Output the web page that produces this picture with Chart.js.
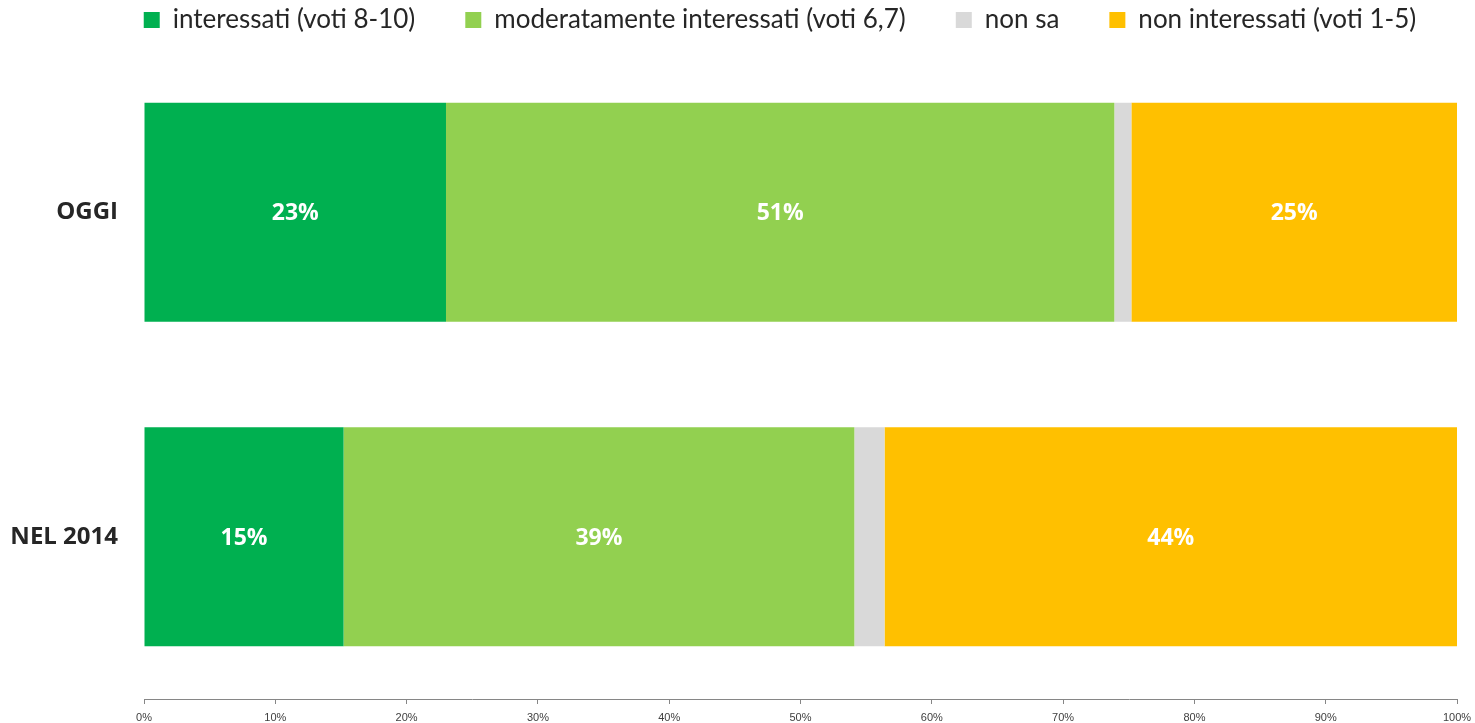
<!DOCTYPE html>
<html>
<head>
<meta charset="utf-8">
<script src="https://cdn.jsdelivr.net/npm/chart.js@4"></script>
<style>
html,body{margin:0;padding:0;background:#fff;}
#wrap{width:1475px;height:723px;position:relative;}
</style>
</head>
<body>
<div id="wrap"><canvas id="c" width="1475" height="723"></canvas></div>
<script>
const categories = ['OGGI', 'NEL 2014'];
const seriesNames = ['interessati (voti 8-10)', 'moderatamente interessati (voti 6,7)', 'non sa', 'non interessati (voti 1-5)'];
const interessati = [23.0, 15.2];
const moderati = [50.9, 38.9];
const nonSa = [1.3, 2.3];
const nonInteressati = [24.8, 43.6];
const valueLabels = [['23%', '15%'], ['51%', '39%'], null, ['25%', '44%']];
const xTicks = [0, 10, 20, 30, 40, 50, 60, 70, 80, 90, 100];
const colors = ['#00B050', '#92D050', '#D9D9D9', '#FFC000'];

const seriesValues = [interessati, moderati, nonSa, nonInteressati];

const barLabelPlugin = {
  id: 'barLabels',
  afterDatasetsDraw(chart) {
    const ctx = chart.ctx;
    ctx.save();
    ctx.fillStyle = '#FFFFFF';
    ctx.font = 'bold 23px "Open Sans"';
    ctx.textAlign = 'center';
    ctx.textBaseline = 'middle';
    chart.data.datasets.forEach((ds, di) => {
      const labels = valueLabels[di];
      if (!labels) return;
      const meta = chart.getDatasetMeta(di);
      meta.data.forEach((bar, i) => {
        const x = (bar.x + bar.base) / 2;
        ctx.fillText(labels[i], x, bar.y + 1.5);
      });
    });
    ctx.restore();
  }
};

const legendFitPlugin = {
  id: 'legendFit',
  beforeInit(chart) {
    const lg = chart.legend;
    if (!lg) return;
    const orig = lg.fit;
    lg.fit = function () {
      const mw = this.maxWidth;
      this.maxWidth = 3000;
      orig.call(this);
      this.maxWidth = mw;
      this.width = mw;
      this.height = 93;
    };
  },
  afterLayout(chart) {
    if (chart.legend) {
      chart.legend.left = 85;
      chart.legend.right = 1475;
    }
  }
};

new Chart(document.getElementById('c'), {
  type: 'bar',
  data: {
    labels: categories,
    datasets: seriesNames.map((n, i) => ({
      label: n,
      data: seriesValues[i],
      backgroundColor: colors[i],
      borderWidth: 0,
      categoryPercentage: 1,
      barPercentage: 0.675
    }))
  },
  options: {
    indexAxis: 'y',
    responsive: false,
    maintainAspectRatio: false,
    animation: false,
    layout: { padding: { left: 0, right: 18, top: -43, bottom: 0 } },
    plugins: {
      legend: {
        position: 'top',
        labels: {
          font: { family: 'Lato', size: 26 },
          color: '#262626',
          boxWidth: 16,
          boxHeight: 16,
          padding: 50
        }
      },
      tooltip: { enabled: false }
    },
    scales: {
      x: {
        stacked: true,
        min: 0,
        max: 100,
        afterBuildTicks(scale) { scale.ticks = xTicks.map(v => ({ value: v })); },
        afterFit(scale) {
          scale.height = 24;
          scale.paddingLeft = 0;
          scale.paddingRight = 0;
        },
        ticks: {
          callback: v => v + '%',
          font: { family: 'Liberation Sans', size: 11 },
          color: '#404040',
          padding: 7,
          maxRotation: 0
        },
        grid: { drawOnChartArea: false, drawTicks: true, tickLength: 5, color: '#868686' },
        border: { color: '#868686', width: 1 }
      },
      y: {
        stacked: true,
        afterFit(scale) {
          scale.width = 144;
          scale.paddingTop = 0;
          scale.paddingBottom = 0;
        },
        ticks: {
          font: { family: 'Open Sans', size: 24, weight: 'bold' },
          color: '#262626',
          padding: 26
        },
        grid: { display: false, drawTicks: false },
        border: { display: false }
      }
    }
  },
  plugins: [barLabelPlugin, legendFitPlugin]
});
</script>
</body>
</html>
